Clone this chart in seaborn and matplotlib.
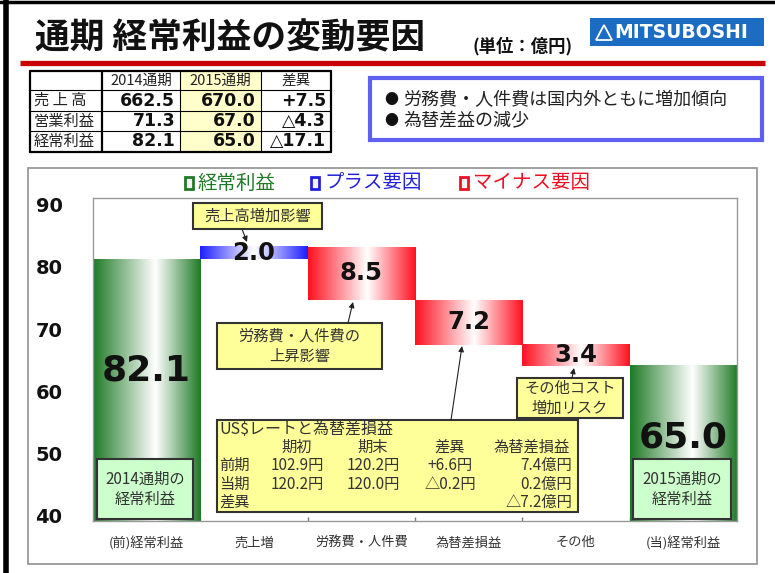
import numpy as np
import pandas as pd
import matplotlib
matplotlib.use("Agg")
import matplotlib.pyplot as plt
import seaborn as sns
from matplotlib.colors import LinearSegmentedColormap
from matplotlib.patches import Rectangle, Polygon
from matplotlib.transforms import ScaledTranslation

# ---------------- data ----------------
categories = ["(前)経常利益", "売上増", "労務費・人件費", "為替差損益", "その他", "(当)経常利益"]
start_value = 82.1
changes = [2.0, -8.5, -7.2, -3.4]
end_value = 65.0
y_ticks = [40, 50, 60, 70, 80, 90]

table_rows = ["売 上 高", "営業利益", "経常利益"]
table_cols = ["2014通期", "2015通期", "差異"]
val_2014 = ["662.5", "71.3", "82.1"]
val_2015 = ["670.0", "67.0", "65.0"]
val_diff = ["+7.5", "△4.3", "△17.1"]

bullets = ["労務費・人件費は国内外ともに増加傾向", "為替差益の減少"]

fx_title = "US$レートと為替差損益"
fx_header = ["", "期初", "期末", "差異", "為替差損益"]
fx_prev = ["前期", "102.9円", "120.2円", "+6.6円", "7.4億円"]
fx_curr = ["当期", "120.2円", "120.0円", "△0.2円", "0.2億円"]
fx_diff = ["差異", "", "", "", "△7.2億円"]

# waterfall geometry from the values
levels = start_value + np.cumsum([0.0] + changes)
tops = [start_value] + [max(a, b) for a, b in zip(levels[:-1], levels[1:])] + [end_value]
bottoms = [0.0] + [min(a, b) for a, b in zip(levels[:-1], levels[1:])] + [0.0]
kinds = ["total"] + ["plus" if c > 0 else "minus" for c in changes] + ["total"]
bar_labels = [f"{start_value:.1f}"] + [f"{abs(c):.1f}" for c in changes] + [f"{end_value:.1f}"]

# ---------------- style ----------------
sns.set_theme(style="white")
plt.rcParams["font.family"] = ["Noto Sans CJK JP", "DejaVu Sans"]
NUM = ["DejaVu Sans", "Noto Sans CJK JP"]

GREEN = "#1f7a26"
BLUE = "#1e1eff"
RED = "#ff1020"
cmaps = {
    "total": LinearSegmentedColormap.from_list("g", [(0, GREEN), (0.58, "white"), (1, GREEN)]),
    "plus": LinearSegmentedColormap.from_list("b", [(0, BLUE), (0.5, "white"), (1, BLUE)]),
    "minus": LinearSegmentedColormap.from_list("r", [(0, RED), (0.55, "white"), (1, RED)]),
}

fig = plt.figure(figsize=(7.75, 5.73), dpi=100)
W, H = 775, 573

# ---------------- waterfall chart ----------------
ax = fig.add_axes([93 / W, (H - 521) / H, 644 / W, 323 / H])
df = pd.DataFrame({"item": categories, "top": tops})
sns.barplot(data=df, x="item", y="top", width=1.0, color="white", ax=ax)

grad = np.linspace(0, 1, 256).reshape(1, -1)
for p, b, t, k in zip(ax.patches, bottoms, tops, kinds):
    p.set_y(b)
    p.set_height(t - b)
    p.set_facecolor("none")
    p.set_edgecolor("none")
    x0, w = p.get_x(), p.get_width()
    ax.imshow(grad, cmap=cmaps[k], extent=[x0, x0 + w, b, t], aspect="auto",
              interpolation="bicubic", zorder=1)

for i, (b, t, k, lab) in enumerate(zip(bottoms, tops, kinds, bar_labels)):
    if k == "total":
        y = 64.3 if i == 0 else 53.5
        fs = 26
    else:
        y = (b + t) / 2
        fs = 17.5
    ax.text(i, y, lab, ha="center", va="center", fontsize=fs, weight="bold",
            family=NUM, color="#111", zorder=3)

ax.set_xlim(-0.5, len(categories) - 0.5)
ax.set_ylim(40, 92)
ax.set_yticks(y_ticks)
ax.set_xlabel("")
ax.set_ylabel("")
ax.set_axisbelow(True)
ax.set_xticks(np.arange(0.5, len(categories) - 1, 1), minor=True)
ax.tick_params(axis="x", which="minor", direction="in", length=3, color="#777", bottom=True)
ax.tick_params(axis="x", which="major", length=0, pad=11, labelsize=9.5, labelcolor="#333")
ax.tick_params(axis="y", length=0, pad=22, labelsize=14)
for lab in ax.get_yticklabels():
    lab.set_fontweight("bold")
    lab.set_family(NUM)
    lab.set_color("#111")
    lab.set_transform(lab.get_transform() + ScaledTranslation(0, 4 / 72, fig.dpi_scale_trans))
for s in ax.spines.values():
    s.set_color("#999")
    s.set_linewidth(1.0)

# ---------------- slide overlay (pixel coordinates) ----------------
ov = fig.add_axes([0, 0, 1, 1], zorder=5)
ov.set_xlim(0, W)
ov.set_ylim(H, 0)
ov.axis("off")
ov.patch.set_alpha(0)

# slide frame
ov.plot([0, W], [1.5, 1.5], color="black", lw=2.5)
ov.plot([6, 6], [0, H], color="black", lw=4)

# title
ov.text(35, 38, "通期 経常利益の変動要因", fontsize=25, weight="bold", va="center", color="#111")
ov.text(472, 46, "(単位：億円)", fontsize=12.5, weight="bold", va="center", color="#111")

# logo
ov.add_patch(Rectangle((590, 18), 174, 28, facecolor="#1b6cc2", edgecolor="none"))
ov.add_patch(Polygon([(596, 40), (604, 25), (612, 40)], closed=True, facecolor="none",
                     edgecolor="white", lw=1.3))
ov.text(614, 32.5, "MITSUBOSHI", fontsize=13.5, weight="bold", family=NUM, color="white", va="center")

# red rule
ov.plot([20, 765], [63, 63], color="#c80000", lw=3.8, solid_capstyle="butt")

# summary table
col_x = [30, 102, 180, 261, 331]
row_y = [71, 90, 111, 131, 152]
ov.add_patch(Rectangle((col_x[2], row_y[0]), col_x[3] - col_x[2], row_y[-1] - row_y[0],
                       facecolor="#ffffcc", edgecolor="none"))
for x in col_x:
    ov.plot([x, x], [row_y[0], row_y[-1]], color="black", lw=1.6 if x in (col_x[0], col_x[1], col_x[-1]) else 0.8)
for y in row_y:
    ov.plot([col_x[0], col_x[-1]], [y, y], color="black", lw=1.6 if y in (row_y[0], row_y[-1]) else 0.8)
for j, c in enumerate(table_cols):
    ov.text((col_x[j + 1] + col_x[j + 2]) / 2, (row_y[0] + row_y[1]) / 2, c, ha="center", va="center",
            fontsize=10.5, color="#222")
for i, r in enumerate(table_rows):
    yc = (row_y[i + 1] + row_y[i + 2]) / 2
    ov.text(col_x[0] + 4, yc, r, ha="left", va="center", fontsize=11, color="#222")
    for j, vals in enumerate([val_2014, val_2015, val_diff]):
        ov.text(col_x[j + 2] - 5, yc, vals[i], ha="right", va="center", fontsize=12.5,
                weight="bold", family=NUM, color="#111")

# bullet box
ov.add_patch(Rectangle((370, 78), 392, 62, facecolor="white", edgecolor="#6060f0", lw=3))
for k, t in enumerate(bullets):
    y = 100 + 21 * k
    ov.text(384, y, "●", fontsize=10, va="center", color="#111")
    ov.text(403, y, t, fontsize=13, va="center", color="#222")

# chart frame and legend
ov.add_patch(Rectangle((28, 168), 729, 396, facecolor="none", edgecolor="#999", lw=1.3))
legend_items = [("経常利益", GREEN, 185), ("プラス要因", "#2222dd", 311), ("マイナス要因", "#ee1122", 460)]
for name, c, x in legend_items:
    ov.add_patch(Rectangle((x, 177), 8, 12, facecolor="#f4f4f4", edgecolor=c, lw=2))
    ov.text(x + 13, 183, name, fontsize=14, va="center", color=c)

# callout boxes
def callout(x0, y0, x1, y1, text, fc="#ffff99", fs=11):
    ov.add_patch(Rectangle((x0, y0), x1 - x0, y1 - y0, facecolor=fc, edgecolor="#333", lw=1.5))
    ov.text((x0 + x1) / 2, (y0 + y1) / 2, text, ha="center", va="center", fontsize=fs,
            color="#333", linespacing=1.25)

def arrow(x0, y0, x1, y1):
    ov.annotate("", xy=(x1, y1), xytext=(x0, y0),
                arrowprops=dict(arrowstyle="-|>", color="#222", lw=0.8, mutation_scale=8,
                                shrinkA=0, shrinkB=0))

callout(97, 459, 193, 519, "2014通期の\n経常利益", fc="#ccffcc")
callout(633, 459, 731, 519, "2015通期の\n経常利益", fc="#ccffcc")
callout(193, 203, 322, 229, "売上高増加影響")
arrow(242, 229, 247, 242)
callout(217, 323, 382, 369, "労務費・人件費の\n上昇影響")
arrow(348, 323, 353, 302)
callout(517, 378, 623, 418, "その他コスト\n増加リスク")
arrow(572, 378, 574, 368)

# FX table box
ov.add_patch(Rectangle((217, 420), 361, 92, facecolor="#ffff99", edgecolor="#333", lw=1.5))
arrow(451, 420, 462, 346)
ov.text(219, 429, fx_title, fontsize=11.5, va="center", color="#333")
fx_x = [219, 297, 373, 450, 572]
for r, row in enumerate([fx_header, fx_prev, fx_curr, fx_diff]):
    y = 447 + 18.5 * r
    for c, val in enumerate(row):
        if c == 0:
            ov.text(fx_x[c], y, val, ha="left", va="center", fontsize=11, color="#333")
        elif c == 4 and r > 0:
            ov.text(fx_x[c], y, val, ha="right", va="center", fontsize=11, color="#333")
        elif c == 4:
            ov.text(532, y, val, ha="center", va="center", fontsize=11, color="#333")
        else:
            ov.text(fx_x[c], y, val, ha="center", va="center", fontsize=11, color="#333")

fig.savefig("out.png", dpi=100)
